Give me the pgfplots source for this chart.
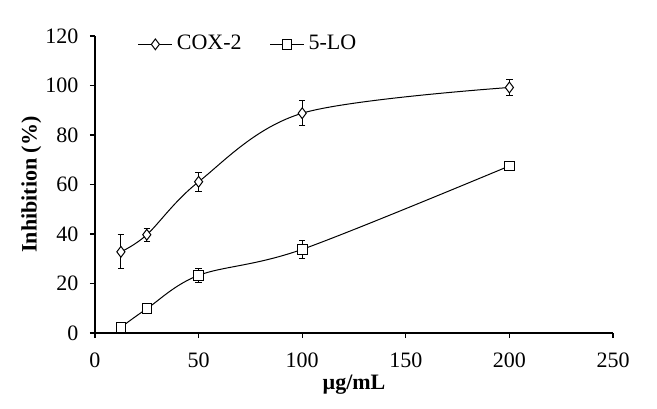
\documentclass[border=0pt]{standalone}
\usepackage{fontspec}
\setmainfont{Liberation Serif}
\usepackage{pgfplots}
\pgfplotsset{compat=1.18}
\begin{document}
\fontsize{11}{13}\selectfont
\begin{tikzpicture}
\begin{axis}[
  scale only axis,
  width=259pt, height=148.5pt,
  xmin=0, xmax=250, ymin=0, ymax=120,
  xtick={0,50,...,250}, ytick={0,20,...,120},
  axis x line=bottom, axis y line=left,
  axis line style={-, line width=0.6pt},
  tick style={black, line width=0.6pt},
  tick align=outside, major tick length=2.5pt,
  /pgf/number format/assume math mode=true,
  xticklabel style={yshift=-3.5pt},
  yticklabel style={xshift=-2pt},
  xlabel={\textbf{µg/mL}}, ylabel={\textbf{Inhibition (\%)}},
  xlabel style={at={(axis description cs:0.5,0)}, anchor=north, yshift=-17pt},
  ylabel style={at={(axis description cs:0,0.5)}, anchor=south, yshift=23pt},
  legend style={draw=none, fill=none, at={(axis cs:20.5,120)}, anchor=north west,
    legend columns=2, font=\fontsize{11}{13}\selectfont,
    inner sep=0pt, yshift=2.5pt,
    /tikz/every even column/.append style={column sep=12pt}},
  legend image code/.code={
    \draw[#1, mark repeat=2, mark phase=2] plot coordinates {(0pt,0pt) (8.5pt,0pt) (17pt,0pt)};},
  legend cell align=left,
  clip=false,
]
\addplot+[black, line width=0.5pt, smooth, tension=0.55, mark=diamond*,
  mark options={fill=white, solid, mark size=2.7pt},
  error bars/.cd, y dir=both, y explicit,
  error bar style={line width=0.5pt},
  error mark options={rotate=90, mark size=1.6pt, line width=0.5pt}]
coordinates {
  (12.5,32.8) +- (0,6.9)
  (25,39.7) +- (0,2.7)
  (50,61.1) +- (0,3.9)
  (100,88.8) +- (0,5.0)
  (200,99.2) +- (0,3.4)
};
\addlegendentry{COX-2}
\addplot+[black, line width=0.5pt, smooth, tension=0.55, mark=square*,
  mark options={fill=white, solid, mark size=2.4pt},
  error bars/.cd, y dir=both, y explicit,
  error bar style={line width=0.5pt},
  error mark options={rotate=90, mark size=1.6pt, line width=0.5pt}]
coordinates {
  (12.5,2.3) +- (0,0.5)
  (25,9.8) +- (0,0.5)
  (50,23.3) +- (0,2.7)
  (100,33.8) +- (0,3.7)
  (200,67.5) +- (0,1.0)
};
\addlegendentry{5-LO}
\end{axis}
\path ([xshift=-47.5pt,yshift=-37.5pt]current axis.south west) rectangle ([xshift=22pt,yshift=18pt]current axis.north east);
\end{tikzpicture}
\end{document}
